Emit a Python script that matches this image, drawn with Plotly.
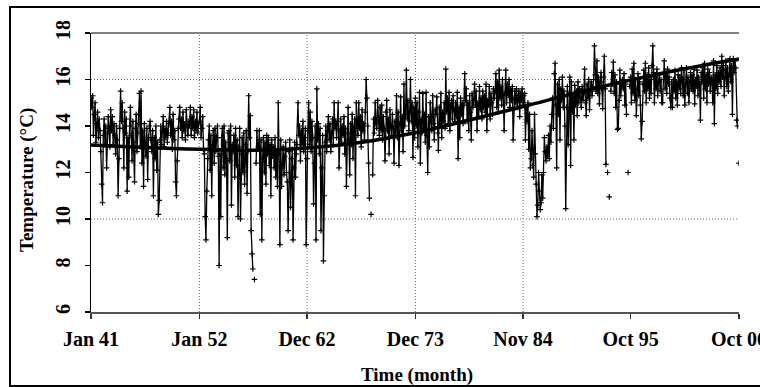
import plotly.graph_objects as go

# ---------------- data (monthly temperature, Jan 1941 - Oct 2006) ----------------
temp_1941_1946 = [
    15.2, 14.8, 15.3, 13.6, 14.5, 15.0, 13.3, 14.1, 14.6, 13.5, 14.3, 13.8,
    12.9, 11.5, 10.7, 13.6, 14.3, 13.2, 14.0, 12.2, 13.7, 14.4, 13.9, 13.1,
    14.7, 13.8, 14.4, 13.2, 14.1, 13.6, 12.8, 14.0, 13.4, 11.0, 12.6, 13.9,
    15.5, 14.2, 15.0, 13.9, 12.2, 14.6, 13.7, 14.3, 11.2, 13.5, 11.8, 14.0,
    14.8, 13.6, 12.5, 14.2, 13.3, 11.6, 13.9, 14.5, 12.9, 13.7, 14.1, 15.4,
    13.1, 15.5, 12.4, 13.8, 11.4, 14.1, 13.2, 12.7, 13.9, 11.7, 13.5, 14.0,
]
temp_1947_1952 = [
    14.2, 13.4, 12.9, 13.8, 11.0, 13.5, 12.6, 14.0, 12.1, 13.3, 10.2, 10.8,
    13.4, 14.0, 13.2, 13.8, 14.4, 13.1, 13.9, 13.5, 14.2, 13.3, 13.7, 14.1,
    14.8, 13.6, 14.2, 13.0, 14.5, 13.4, 13.8, 11.6, 11.0, 12.5, 13.9, 14.3,
    14.8, 13.9, 14.3, 13.5, 14.6, 13.8, 14.1, 13.4, 14.7, 14.0, 13.6, 14.2,
    14.0, 14.8, 13.6, 14.4, 13.9, 14.7, 13.5, 14.2, 13.8, 14.6, 13.7, 14.1,
    14.2, 14.8, 13.5, 13.9, 14.4, 13.0, 12.8, 10.1, 9.1, 11.2, 12.6, 13.4,
]
temp_1953_1958 = [
    14.0, 12.1, 13.6, 11.0, 13.2, 13.8, 12.4, 13.9, 12.9, 13.5, 14.0, 12.7,
    8.0, 12.8, 10.1, 13.5, 13.9, 12.2, 14.0, 11.9, 13.3, 12.6, 9.2, 13.7,
    13.8, 12.5, 14.0, 10.6, 13.2, 12.9, 13.6, 11.8, 13.9, 12.3, 13.4, 10.1,
    13.1, 13.9, 10.0, 12.8, 13.5, 12.0, 13.7, 11.5, 13.2, 13.8, 11.1, 12.9,
    15.3, 13.5, 14.45, 9.5, 8.5, 7.85, None, 7.4, None, 12.4, 13.8, 13.0,
    13.1, 13.8, 10.2, 13.4, 9.1, 12.6, 13.5, 12.0, 13.3, 11.5, 13.6, 12.8,
]
temp_1959_1964 = [
    13.5, 12.3, 13.2, 11.0, 13.4, 12.7, 13.1, 12.2, 13.5, 11.8, 12.9, 11.4,
    15.0, 12.8, 8.9, 13.4, 11.4, 12.3, 13.1, 11.9, 12.7, 13.3, 12.0, 11.6,
    9.5, 12.9, 13.4, 10.5, 12.6, 13.0, 9.1, 12.2, 13.3, 11.8, 12.8, 13.2,
    15.0, 13.6, 14.0, 12.5, 13.8, 13.2, 14.2, 12.9, 13.5, 13.9, 8.9, 12.6,
    13.8, 15.0, 13.2, 14.6, 12.9, 14.2, 13.5, 10.65, 12.4, 14.0, 9.1, 15.6,
    13.4, 14.1, 12.8, 13.9, 9.5, 12.2, 13.6, 8.2, 11.0, 13.3, 14.0, 12.9,
]
temp_1965_1970 = [
    13.8, 14.4, 13.4, 14.1, 12.9, 13.7, 14.3, 13.2, 15.0, 13.9, 14.2, 13.5,
    14.2, 15.0, 12.2, 13.8, 14.3, 13.3, 14.0, 13.6, 14.4, 12.8, 13.9, 11.4,
    13.7, 14.8, 13.4, 11.9, 14.1, 13.2, 14.5, 12.6, 13.9, 14.3, 11.0, 15.0,
    14.2, 13.6, 15.0, 13.9, 14.4, 13.1, 14.7, 13.8, 14.1, 13.4, 14.6, 16.0,
    15.2, 14.0, 12.4, 10.9, None, 10.2, None, 11.9, 14.3, 13.7, 15.0, 14.1,
    13.9, 15.1, 14.2, 13.6, 14.8, 13.8, 14.9, 13.4, 14.4, 13.9, 12.5, 14.6,
]
temp_1971_1976 = [
    15.1, 13.8, 14.3, 12.8, 14.7, 14.0, 13.6, 14.5, 13.9, 12.4, 14.2, 13.7,
    15.3, 13.5, 14.6, 12.3, 14.1, 15.25, 13.8, 14.4, 12.9, 15.8, 14.0, 14.5,
    16.4, 14.3, 15.1, 13.8, 14.6, 16.0, 14.2, 15.0, 12.65, 14.8, 13.5, 15.2,
    14.0, 15.0, 13.1, 14.6, 15.45, 12.4, 14.3, 13.7, 15.4, 13.9, 14.5, 13.3,
    15.45, 13.6, 12.0, 14.4, 13.1, 15.0, 14.2, 13.8, 15.3, 14.1, 13.4, 14.7,
    14.5, 15.25, 13.7, 12.95, 14.8, 14.0, 15.4, 13.5, 14.6, 14.2, 15.0, 13.9,
]
temp_1977_1982 = [
    16.45, 14.6, 15.2, 14.1, 15.45, 13.8, 14.9, 15.1, 14.3, 15.3, 14.7, 14.2,
    15.0, 14.4, 15.45, 12.6, 14.8, 13.5, 15.2, 14.5, 15.0, 14.1, 14.9, 16.25,
    15.1, 15.6, 14.2, 15.0, 13.8, 15.3, 14.6, 13.4, 15.4, 14.8, 15.1, 15.8,
    14.9, 15.5, 13.8, 15.0, 14.4, 15.7, 14.7, 15.2, 14.3, 15.5, 14.8, 15.3,
    14.6, 15.8, 13.8, 15.1, 14.9, 15.7, 14.3, 15.4, 15.0, 14.5, 15.6, 15.2,
    15.5, 16.25, 14.8, 15.9, 14.6, 16.4, 15.2, 15.7, 14.9, 16.0, 15.3, 13.8,
]
temp_1983_1988 = [
    15.4, 16.4, 15.0, 15.8, 15.3, 16.0, 14.8, 15.6, 15.1, 15.7, 13.4, 15.2,
    15.5, 15.0, 15.6, 14.8, 15.3, 15.5, 14.4, 15.4, 15.1, 15.6, 14.9, 15.3,
    15.4, 13.4, 14.8, 14.2, 15.0, 13.0, 14.5, 12.2, 12.6, 13.8, 12.3, 11.8,
    14.5, 12.8, 11.5, 10.1, 10.6, 12.0, 11.2, 10.4, 10.7, 11.9, 10.9, 12.0,
    13.5, 12.9, 12.5, 13.1, 12.7, 13.6, 12.6, 14.0, 13.3, 14.5, 15.2, 13.9,
    16.25, 16.7, 14.9, 12.2, 15.8, 14.5, 16.0, 13.4, 15.6, 15.1, 16.1, 14.8,
]
temp_1989_1994 = [
    15.5, 14.0, 10.45, 14.8, 15.7, 13.2, 15.4, 16.1, 12.3, 15.9, 14.6, 15.3,
    13.4, 15.75, 14.9, 15.5, 14.45, 15.9, 15.0, 15.6, 15.2, 14.8, 15.7, 15.1,
    15.4, 16.45, 15.0, 14.45, 15.8, 15.2, 16.0, 14.7, 15.6, 15.9, 15.3, 15.7,
    16.0, 17.45, 16.2, 15.5, 16.8, 15.4, 16.1, 14.95, 15.9, 16.3, 15.6, 14.75,
    16.1, 17.0, 15.6, 12.35, None, 12.0, None, 10.95, None, 15.5, 16.3, 15.8,
    16.75, 15.4, 16.2, 14.8, 15.9, 13.85, 13.9, 15.1, 16.4, 15.3, 15.8, 16.0,
]
temp_1995_2000 = [
    15.6, 16.25, 14.9, 15.8, 14.5, None, 12.0, None, 15.7, 16.1, 15.0, 16.45,
    15.4, 16.7, 15.1, 16.0, 14.45, 15.6, 16.25, 15.3, 15.9, 14.9, 13.45, 14.2,
    15.8, 16.4, 15.5, 16.7, 15.0, 16.2, 15.6, 16.5, 15.2, 16.0, 15.4, 16.6,
    17.45, 16.3, 15.0, 16.1, 15.6, 16.45, 15.3, 15.9, 16.2, 15.5, 16.0, 15.0,
    15.0, 16.0, 16.8, 15.6, 16.3, 15.4, 16.45, 15.8, 16.1, 15.2, 14.8, 15.9,
    14.8, 16.0, 15.5, 16.4, 15.2, 15.9, 14.9, 16.2, 15.6, 16.1, 15.4, 16.5,
]
temp_2001_2006 = [
    16.0, 15.3, 16.4, 14.9, 15.8, 16.5, 15.4, 16.1, 15.0, 15.9, 16.3, 15.6,
    16.2, 15.5, 16.45, 14.95, 16.0, 15.7, 16.4, 15.3, 16.1, 15.8, 14.25, 16.3,
    15.9, 16.5, 15.2, 16.7, 15.6, 16.2, 15.0, 16.45, 15.8, 16.3, 15.5, 16.1,
    16.0, 15.0, 16.8, 14.1, 16.2, 15.6, 16.6, 15.4, 16.3, 15.9, 16.5, 15.7,
    17.0, 16.1, 16.6, 15.3, 16.4, 16.8, 15.7, 16.5, 15.5, 16.2, 16.9, 15.9,
    16.6, 14.5, 16.9, 16.3, 16.8, 16.5, 14.25, 14.0, None, 12.4,
]

# polynomial trend line at anchor months
trend_months = [0, 66, 132, 198, 264, 330, 396, 462, 528, 594, 660, 726, 789]
trend_values = [13.18, 13.08, 13.0, 12.96, 13.05, 13.3, 13.72, 14.27, 14.85, 15.45, 16.0, 16.48, 16.88]

tick_months = [0, 132, 263, 395, 526, 657, 789]
tick_labels = ["Jan 41", "Jan 52", "Dec 62", "Dec 73", "Nov 84", "Oct 95", "Oct 06"]
y_ticks = [6, 8, 10, 12, 14, 16, 18]
y_grid = [10, 16]
x_grid = tick_months[1:5]

temps = (temp_1941_1946 + temp_1947_1952 + temp_1953_1958 + temp_1959_1964 +
         temp_1965_1970 + temp_1971_1976 + temp_1977_1982 + temp_1983_1988 +
         temp_1989_1994 + temp_1995_2000 + temp_2001_2006)
months = list(range(len(temps)))

# ---------------- layout constants ----------------
W, H = 760, 387
L, R, T, B = 91, 21, 33, 75
PW, PH = W - L - R, H - T - B
FONT = "Liberation Serif"


def px_x(p):
    return (p - L) / PW


def px_y(p):
    return 1 - (p - T) / PH


fig = go.Figure()
fig.add_trace(go.Scatter(
    x=months, y=temps, mode="lines+markers",
    line=dict(color="black", width=1.3),
    marker=dict(symbol="cross-thin", size=4, line=dict(color="black", width=1.2)),
    connectgaps=False, hoverinfo="skip",
))
fig.add_trace(go.Scatter(
    x=trend_months, y=trend_values, mode="lines",
    line=dict(color="black", width=3.5, shape="spline", smoothing=1.0),
    hoverinfo="skip",
))

shapes = []
for g in y_grid:
    shapes.append(dict(type="line", xref="paper", yref="y", x0=0, x1=1, y0=g, y1=g,
                       line=dict(color="#666", width=1, dash="1px,2px"), layer="below"))
for g in x_grid:
    shapes.append(dict(type="line", xref="x", yref="paper", x0=g, x1=g, y0=0, y1=1,
                       line=dict(color="#666", width=1, dash="1px,2px"), layer="below"))
# top border of plot area
shapes.append(dict(type="line", xref="paper", yref="paper", x0=0, x1=1, y0=1, y1=1,
                   line=dict(color="#555", width=1.5)))
# outer frame
shapes.append(dict(type="rect", xref="paper", yref="paper",
                   x0=px_x(10), x1=px_x(763), y0=px_y(386), y1=px_y(7),
                   line=dict(color="black", width=2), fillcolor="rgba(0,0,0,0)"))

tickfont = dict(family=FONT, size=20, color="black", weight="bold")

fig.update_layout(
    width=W, height=H,
    margin=dict(l=L, r=R, t=T, b=B, autoexpand=False),
    plot_bgcolor="white", paper_bgcolor="white",
    showlegend=False,
    shapes=shapes,
    xaxis=dict(range=[0, len(temps) - 1], tickvals=tick_months, ticktext=tick_labels,
               ticks="outside", ticklen=5, tickcolor="#333", tickwidth=1.5,
               showline=True, linecolor="#555", linewidth=1.5,
               showgrid=False, zeroline=False, tickfont=tickfont,
               ticklabelstandoff=3, ticklabeloverflow="allow", automargin=False),
    yaxis=dict(range=[6, 18], tickvals=y_ticks, tickangle=-90,
               ticks="outside", ticklen=5, tickcolor="black", tickwidth=1.5,
               showline=True, linecolor="black", linewidth=1.5,
               showgrid=False, zeroline=False, tickfont=tickfont,
               ticklabelstandoff=7, ticklabeloverflow="allow", automargin=False),
    annotations=[
        dict(text="Temperature (°C)", xref="paper", yref="paper", x=px_x(27), y=px_y(180),
             textangle=-90, showarrow=False, xanchor="center", yanchor="middle",
             font=dict(family=FONT, size=19, color="black", weight="bold")),
        dict(text="Time (month)", xref="paper", yref="paper", x=px_x(417), y=px_y(375),
             showarrow=False, xanchor="center", yanchor="middle",
             font=dict(family=FONT, size=19, color="black", weight="bold")),
    ],
)

fig.write_html("out.html", config={"displayModeBar": False, "staticPlot": True},
               post_script="document.body.style.margin='0';document.body.style.overflow='hidden';")
